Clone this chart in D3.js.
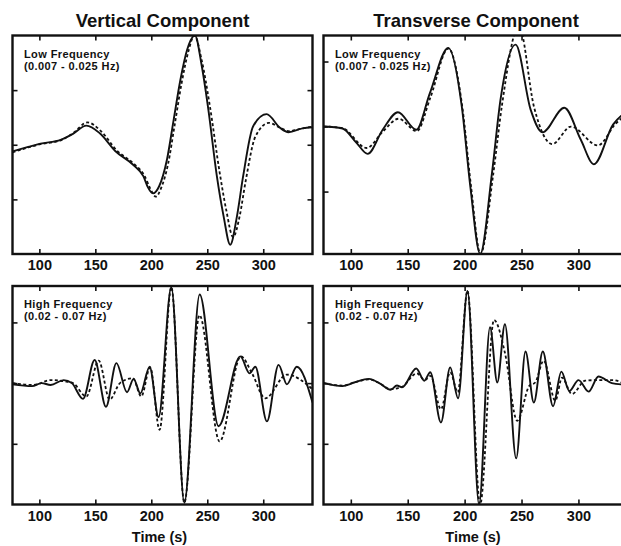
<!DOCTYPE html>
<html>
<head>
<meta charset="utf-8">
<script src="https://cdn.jsdelivr.net/npm/d3@7"></script>
<style>
body { margin: 0; background: #fff; }
svg { display: block; }
text { font-family: "Liberation Sans", Arial, Helvetica, sans-serif; font-weight: bold; fill: #111; }
</style>
</head>
<body>
<div id="chart"></div>
<script>
//Figure: sizes
var width = 621;
var height = 546;
var colX = [12.5, 323.5];
var colW = [300, 305];
var rowY = [35.5, 286];
var panelH = 218.5;

//Axes
var timeDomain = [76, 344];
var timeTicks = [100, 150, 200, 250, 300];
var ampTicks = [-1, 0, 1];
var titles = ["Vertical Component", "Transverse Component"];
var bandNames = ["Low Frequency", "High Frequency"];
var bandRanges = ["(0.007 - 0.025 Hz)", "(0.02 - 0.07 Hz)"];
var xLabel = "Time (s)";

//Vertical, low frequency (solid = data, dashed = synthetic)
var vLowSolidT = [76, 90, 101, 119, 130, 142, 154, 168, 184, 193, 197, 201.5, 207, 214, 220, 226, 232, 239, 245, 251, 258.6, 264.6, 270.5, 276.5, 282, 291, 303, 315, 322.6, 335, 344];
var vLowSolidV = [-0.12, -0.04, 0.02, 0.09, 0.2, 0.35, 0.21, -0.12, -0.37, -0.58, -0.78, -0.89, -0.76, -0.27, 0.46, 1.19, 1.74, 2.0, 1.45, 0.64, -0.58, -1.31, -1.83, -1.31, -0.58, 0.34, 0.56, 0.31, 0.23, 0.3, 0.32];
var vLowDashT = [76, 90, 101, 119, 130, 143, 155, 169, 185, 194, 199, 204, 209, 215, 221, 227, 233, 238.5, 245, 252, 261, 267, 273, 279, 284, 293, 305, 316, 323, 335, 344];
var vLowDashV = [-0.14, -0.05, 0.01, 0.08, 0.21, 0.41, 0.25, -0.1, -0.36, -0.57, -0.8, -0.95, -0.78, -0.35, 0.38, 1.12, 1.7, 2.0, 1.55, 0.75, -0.5, -1.2, -1.69, -1.3, -0.7, 0.15, 0.4, 0.3, 0.25, 0.3, 0.33];

//Transverse, low frequency
var tLowSolidT = [76, 92.6, 105, 114.8, 128, 141.4, 157.6, 169.4, 185.7, 197.5, 205, 213.7, 224, 231.5, 244.8, 258, 268.4, 287.6, 302, 313.6, 330.4, 344];
var tLowSolidV = [0, -0.03, -0.25, -0.42, -0.05, 0.22, -0.05, 0.51, 1.21, 0.31, -0.92, -1.96, -0.72, 0.41, 1.26, 0.26, -0.09, 0.29, -0.2, -0.58, 0.03, 0.25];
var tLowDashT = [76, 92, 114, 128, 142, 158, 170, 185.7, 198, 205.5, 214, 225, 233, 247.7, 261, 277, 293.5, 317, 333, 344];
var tLowDashV = [0, -0.02, -0.33, -0.08, 0.12, -0.07, 0.45, 1.2, 0.3, -0.9, -1.96, -0.75, 0.35, 1.55, 0.3, -0.27, 0.0, -0.29, 0.05, 0.2];

//Vertical, high frequency
var vHighSolidT = [76, 93.5, 102, 110, 121.7, 129, 139, 149.4, 159.5, 168.8, 178.3, 184.2, 190.2, 198.5, 206.5, 217.9, 229.5, 243.2, 260.1, 279.5, 287.8, 292.9, 303.3, 313.7, 321.1, 330, 344];
var vHighSolidV = [-0.02, -0.05, 0.0, -0.03, 0.05, 0, -0.26, 0.38, -0.39, 0.33, -0.15, 0.07, -0.17, 0.27, -0.56, 1.58, -1.97, 1.46, -0.71, 0.44, 0.16, 0.27, -0.63, 0.3, -0.02, 0.27, -0.32];
var vHighDashT = [76, 95, 110, 122, 130, 142, 153, 162.8, 172, 183.6, 191, 199, 207.4, 217.9, 229.5, 243, 261, 280, 290, 301.8, 321, 344];
var vHighDashV = [0, -0.03, 0.05, 0.03, 0.0, -0.22, 0.37, -0.27, 0.0, 0.08, -0.22, 0.26, -0.77, 1.58, -1.97, 1.12, -0.96, 0.44, 0.16, -0.25, 0.14, -0.1];

//Transverse, high frequency
var tHighSolidT = [76, 92.6, 103, 116, 125, 135, 140.5, 145, 157.5, 164.6, 169.8, 179.2, 187.3, 194.3, 202.5, 212.7, 222.3, 228.7, 235.4, 245.3, 253.5, 260.8, 268.7, 277.7, 285, 292, 300.1, 308.9, 317.6, 329.3, 344];
var tHighSolidV = [0, -0.05, 0.01, 0.07, 0.0, -0.11, -0.04, -0.07, 0.24, 0.04, 0.18, -0.65, 0.26, -0.25, 1.52, -2.0, 0.92, 0.01, 0.97, -1.24, 0.52, -0.32, 0.52, -0.38, 0.19, -0.13, 0.05, -0.14, 0.11, 0.0, -0.03];
var tHighDashT = [76, 92.6, 103, 116, 125, 135, 145, 158, 165, 170, 179.2, 187.3, 194, 202.5, 213.6, 225.8, 235.4, 246.2, 257, 262, 269.5, 279.7, 285.6, 294.3, 306, 317.6, 330, 344];
var tHighDashV = [0, -0.04, 0.01, 0.06, 0.0, -0.1, -0.06, 0.16, 0.05, 0.12, -0.43, 0.18, -0.15, 1.52, -2.0, 1.04, 0.5, -0.62, -0.04, 0.01, 0.37, -0.29, 0.09, -0.18, 0.04, 0.05, 0.05, -0.05];

//Amplitude ranges per panel
var ampLowV = [-2, 2];
var ampLowT = [-1.96, 1.4];
var ampHigh = [-2, 1.6];

//Panels table built from the arrays above
var panels = [
    {col: 0, row: 0, amp: ampLowV, solid: [vLowSolidT, vLowSolidV], dash: [vLowDashT, vLowDashV]},
    {col: 1, row: 0, amp: ampLowT, solid: [tLowSolidT, tLowSolidV], dash: [tLowDashT, tLowDashV]},
    {col: 0, row: 1, amp: ampHigh, solid: [vHighSolidT, vHighSolidV], dash: [vHighDashT, vHighDashV]},
    {col: 1, row: 1, amp: ampHigh, solid: [tHighSolidT, tHighSolidV], dash: [tHighDashT, tHighDashV]}
];

var svg = d3.select("#chart").append("svg")
    .attr("width", width)
    .attr("height", height);

//Column titles
for (var c = 0; c < 2; c++) {
    svg.append("text")
        .attr("x", colX[c] + colW[c] / 2)
        .attr("y", 26.5)
        .attr("text-anchor", "middle")
        .attr("font-size", 18.5)
        .text(titles[c]);
}

function toPoints(pair) {
    return pair[0].map(function (t, k) { return [t, pair[1][k]]; });
}

panels.forEach(function (p, idx) {
    var x0 = colX[p.col];
    var y0 = rowY[p.row];
    var w = colW[p.col];

    var x = d3.scaleLinear().domain(timeDomain).range([0, w]);
    var y = d3.scaleLinear().domain(p.amp).range([panelH, 0]);

    var g = svg.append("g").attr("transform", "translate(" + x0 + "," + y0 + ")");

    g.append("clipPath").attr("id", "clip" + idx)
        .append("rect").attr("width", w).attr("height", panelH);

    var line = d3.line()
        .x(function (d) { return x(d[0]); })
        .y(function (d) { return y(d[1]); })
        .curve(d3.curveMonotoneX);

    var plot = g.append("g").attr("clip-path", "url(#clip" + idx + ")");

    plot.append("path")
        .datum(toPoints(p.dash))
        .attr("d", line)
        .attr("fill", "none")
        .attr("stroke", "#111")
        .attr("stroke-width", 1.8)
        .attr("stroke-dasharray", "3,2.4");

    plot.append("path")
        .datum(toPoints(p.solid))
        .attr("d", line)
        .attr("fill", "none")
        .attr("stroke", "#111")
        .attr("stroke-width", 1.9);

    //Inward ticks on all four sides
    var bottom = g.append("g").attr("transform", "translate(0," + panelH + ")")
        .call(d3.axisBottom(x).tickValues(timeTicks).tickSizeInner(-5).tickSizeOuter(0).tickPadding(6));
    var top = g.append("g")
        .call(d3.axisTop(x).tickValues(timeTicks).tickSizeInner(-5).tickSizeOuter(0).tickFormat(""));
    var left = g.append("g")
        .call(d3.axisLeft(y).tickValues(ampTicks).tickSizeInner(-5).tickSizeOuter(0).tickFormat(""));
    var right = g.append("g").attr("transform", "translate(" + w + ",0)")
        .call(d3.axisRight(y).tickValues(ampTicks).tickSizeInner(-5).tickSizeOuter(0).tickFormat(""));

    [bottom, top, left, right].forEach(function (a) {
        a.select(".domain").remove();
        a.selectAll(".tick line").attr("stroke", "#111").attr("stroke-width", 1.6);
    });
    bottom.selectAll(".tick text")
        .attr("fill", "#111")
        .attr("font-size", 14.5)
        .attr("font-family", "'Liberation Sans', Arial, Helvetica, sans-serif")
        .attr("font-weight", "bold");

    //Frame
    g.append("rect")
        .attr("width", w)
        .attr("height", panelH)
        .attr("fill", "none")
        .attr("stroke", "#111")
        .attr("stroke-width", 2.4);

    //Band label
    g.append("text").attr("x", 11.5).attr("y", 22).attr("font-size", 11)
        .attr("letter-spacing", 0.4).text(bandNames[p.row]);
    g.append("text").attr("x", 11.5).attr("y", 34).attr("font-size", 11)
        .attr("letter-spacing", 0.4).text(bandRanges[p.row]);

    //Time label under bottom row
    if (p.row == 1) {
        svg.append("text")
            .attr("x", x0 + w / 2 - 3)
            .attr("y", 541.5)
            .attr("text-anchor", "middle")
            .attr("font-size", 14.5)
            .text(xLabel);
    }
});
</script>
</body>
</html>
